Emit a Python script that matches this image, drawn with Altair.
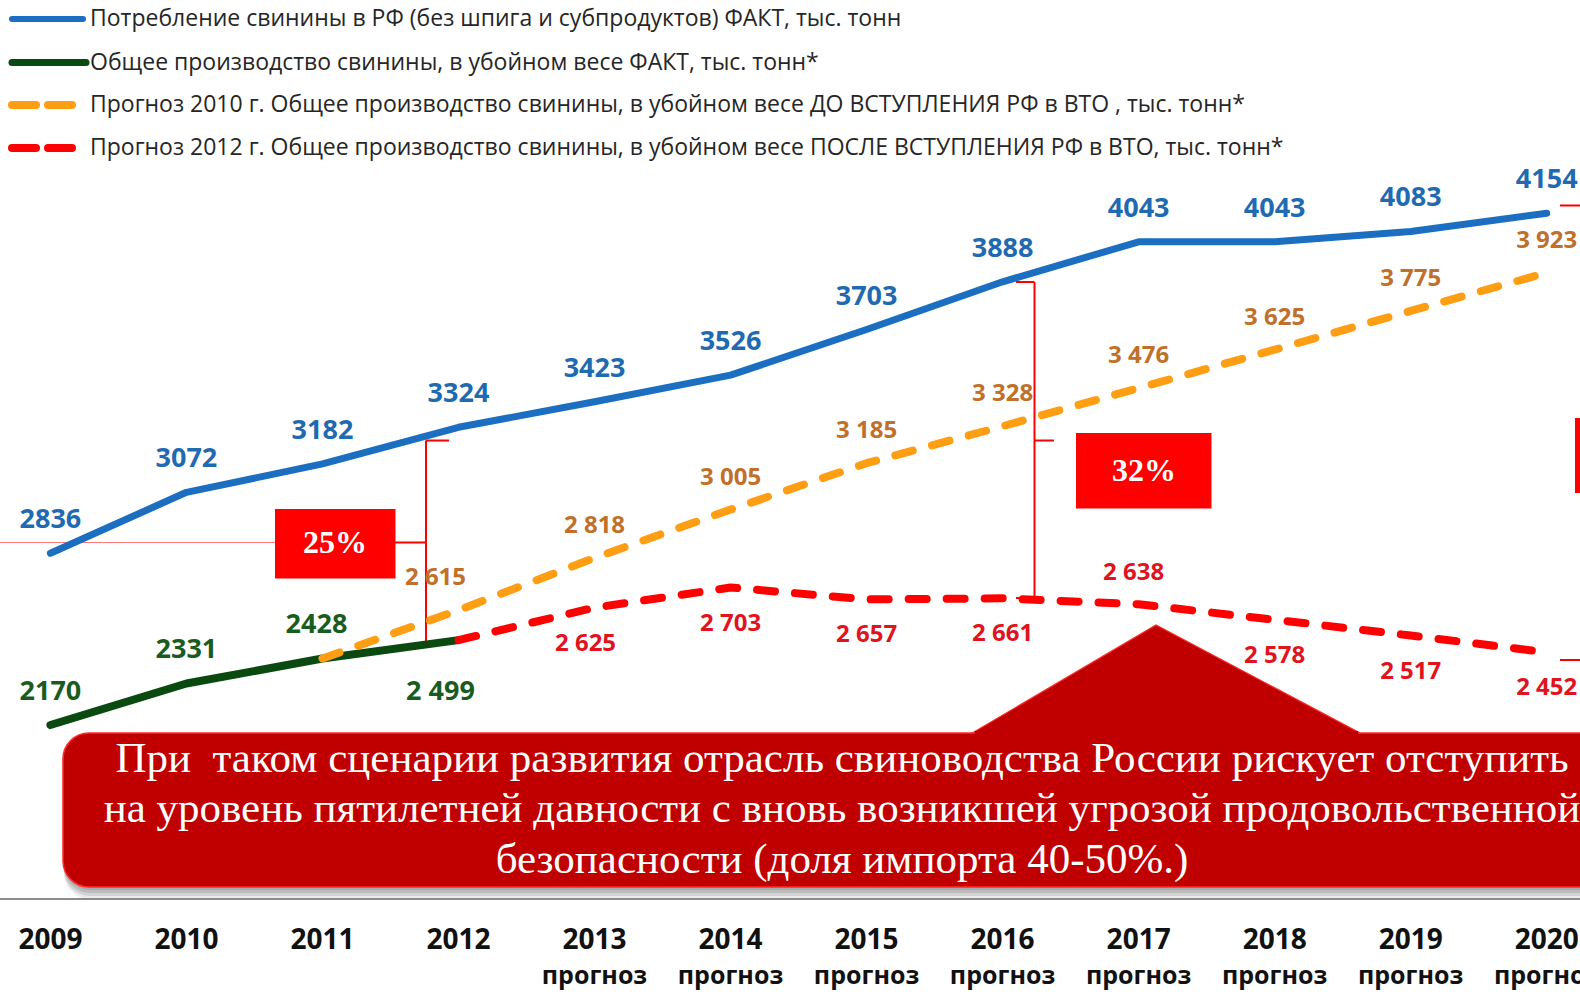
import altair as alt
import pandas as pd

# ---------------- data ----------------
years = [2009, 2010, 2011, 2012, 2013, 2014, 2015, 2016, 2017, 2018, 2019, 2020]
consumption = [2836, 3072, 3182, 3324, 3423, 3526, 3703, 3888, 4043, 4043, 4083, 4154]

prod_years = [2009, 2010, 2011, 2012]
production = [2170, 2331, 2428, 2499]

f2010_years = [2011, 2012, 2013, 2014, 2015, 2016, 2017, 2018, 2019, 2020]
forecast_2010 = [2428, 2615, 2818, 3005, 3185, 3328, 3476, 3625, 3775, 3923]

f2012_years = [2012, 2013, 2014, 2015, 2016, 2017, 2018, 2019, 2020]
forecast_2012 = [2499, 2625, 2703, 2657, 2661, 2638, 2578, 2517, 2452]

year_labels = ["2009", "2010", "2011", "2012", "2013", "2014",
               "2015", "2016", "2017", "2018", "2019", "2020"]
forecast_word = "прогноз"
first_forecast_year = 2013

legend_labels = [
    "Потребление свинины в РФ (без шпига и субпродуктов) ФАКТ, тыс. тонн",
    "Общее производство свинины, в убойном весе ФАКТ, тыс. тонн*",
    "Прогноз 2010 г. Общее производство свинины, в убойном весе ДО ВСТУПЛЕНИЯ РФ в ВТО , тыс. тонн*",
    "Прогноз 2012 г. Общее производство свинины, в убойном весе ПОСЛЕ ВСТУПЛЕНИЯ РФ в ВТО, тыс. тонн*",
]
callout_lines = [
    "При  таком сценарии развития отрасль свиноводства России рискует отступить",
    "на уровень пятилетней давности с вновь возникшей угрозой продовольственной",
    "безопасности (доля импорта 40-50%.)",
]
pct_labels = ["25%", "32%"]

# ---------------- styling ----------------
W, H = 1580, 994
FONT = "Open Sans"
SERIF = "Liberation Serif"
C_BLUE, C_BLUE_T = "#1C6FC0", "#1F6AB0"
C_GREEN, C_GREEN_T = "#0A4A10", "#1A5C1E"
C_ORANGE, C_ORANGE_T = "#FF9E12", "#C0702A"
C_RED, C_RED_T = "#FF0000", "#E0141E"
C_BOX = "#C00000"

xs = alt.Scale(domain=[2008.6295, 2020.2446], nice=False, zero=False)
ys = alt.Scale(domain=[1127.5, 4980.2], nice=False, zero=False)
PX_PER_YEAR = W / (2020.2446 - 2008.6295)


def series_df(xv, yv):
    return pd.DataFrame({"year": xv, "v": yv})


def line_layer(df, color, width, dash=None):
    kw = dict(color=color, strokeWidth=width, interpolate="linear",
              strokeCap="round", strokeJoin="round")
    if dash:
        kw["strokeDash"] = dash
    return alt.Chart(df).mark_line(**kw).encode(
        x=alt.X("year:Q", scale=xs, axis=None),
        y=alt.Y("v:Q", scale=ys, axis=None),
    )


def fmt_space(v):
    s = str(v)
    return s[:-3] + " " + s[-3:]


def label_layer(df, color, size, dy, shifts=None):
    d = df.copy()
    shifts = shifts or {}
    d["lx"] = [y + shifts.get(y, 0) / PX_PER_YEAR for y in d["year"]]
    return alt.Chart(d).mark_text(
        font=FONT, fontWeight="bold", fontSize=size, color=color,
        align="center", baseline="middle", dy=dy,
    ).encode(
        x=alt.X("lx:Q", scale=xs, axis=None),
        y=alt.Y("v:Q", scale=ys, axis=None),
        text="label:N",
    )


blue = series_df(years, consumption)
green = series_df(prod_years, production)
orange = series_df(f2010_years, forecast_2010)
red = series_df(f2012_years, forecast_2012)

blue["label"] = [str(v) for v in blue["v"]]
green["label"] = [fmt_space(v) if y >= 2012 else str(v) for y, v in zip(green["year"], green["v"])]
orange["label"] = [fmt_space(v) for v in orange["v"]]
red["label"] = [fmt_space(v) for v in red["v"]]

green_above = green[green["year"] < 2012]
green_below = green[green["year"] >= 2012]
orange_lab = orange[orange["year"] >= 2012]
red_lab = red[red["year"] >= 2013]
red_above = red_lab[red_lab["year"] == 2017]
red_below = red_lab[red_lab["year"] != 2017]

layers = []

# ---------- callout box (shadow, body, pointer) ----------
for i, op in enumerate([0.10, 0.10, 0.10, 0.08]):
    off = 3 * (i + 1)
    layers.append(
        alt.Chart(pd.DataFrame({"a": [0]})).mark_rect(
            color="#000000", opacity=op, cornerRadius=26
        ).encode(x=alt.value(64), x2=alt.value(1660),
                 y=alt.value(735 + off), y2=alt.value(887 + off))
    )
layers.append(
    alt.Chart(pd.DataFrame({"a": [0]})).mark_rect(
        color=C_BOX, stroke="#FF2A2A", strokeWidth=1.5, cornerRadius=26
    ).encode(x=alt.value(63), x2=alt.value(1660), y=alt.value(733), y2=alt.value(887))
)
tri_half_w = 194.0
tri_path = "M -1 0.2784 L -0.0526 -0.2784 L 1 0.2784 Z"
layers.append(
    alt.Chart(pd.DataFrame({"a": [0]})).mark_point(
        shape=tri_path, filled=True, fill=C_BOX, stroke="#FF2A2A",
        strokeWidth=1.2, opacity=1, size=(2 * tri_half_w) ** 2
    ).encode(x=alt.value(1166.2), y=alt.value(679))
)
layers.append(
    alt.Chart(pd.DataFrame({"a": [0]})).mark_rect(color=C_BOX).encode(
        x=alt.value(975), x2=alt.value(1358), y=alt.value(731), y2=alt.value(738))
)
callout_df = pd.DataFrame({
    "t": [s.replace("  ", " \u00a0") for s in callout_lines],
    "py": [759, 809, 860],
})
layers.append(
    alt.Chart(callout_df).mark_text(
        font=SERIF, fontSize=43, color="white", align="center", baseline="middle"
    ).encode(x=alt.value(842), y=alt.Y("py:Q", scale=None, axis=None), text="t:N")
)

# ---------- percentage brackets ----------
segs = pd.DataFrame([
    (0, 542.5, 275, 542.5, "#FF7A7A", 1.2),
    (395, 542.5, 426, 542.5, C_RED, 2),
    (426, 440.5, 426, 643.5, C_RED, 2),
    (426, 440.5, 449, 440.5, C_RED, 2),
    (426, 643.5, 449, 643.5, C_RED, 2),
    (1016, 282, 1034.5, 282, C_RED, 2),
    (1034.5, 282, 1034.5, 598, C_RED, 2),
    (1034.5, 440.5, 1054, 440.5, C_RED, 2),
    (1016, 598, 1034.5, 598, C_RED, 2),
    (1560, 205.5, 1582, 205.5, C_RED, 2),
    (1560, 660, 1582, 660, C_RED, 2),
], columns=["x1", "y1", "x2", "y2", "c", "w"])
layers.append(
    alt.Chart(segs).mark_rule().encode(
        x=alt.X("x1:Q", scale=None, axis=None), x2="x2:Q",
        y=alt.Y("y1:Q", scale=None, axis=None), y2="y2:Q",
        color=alt.Color("c:N", scale=None),
        strokeWidth=alt.StrokeWidth("w:Q", scale=None),
    )
)
boxes = pd.DataFrame([
    (275, 509, 395.5, 578.5),
    (1076, 433, 1211.5, 508.5),
    (1575, 418, 1590, 493),
], columns=["x1", "y1", "x2", "y2"])
layers.append(
    alt.Chart(boxes).mark_rect(color=C_RED).encode(
        x=alt.X("x1:Q", scale=None, axis=None), x2="x2:Q",
        y=alt.Y("y1:Q", scale=None, axis=None), y2="y2:Q",
    )
)
pct_df = pd.DataFrame({"t": pct_labels, "px": [335, 1144], "py": [543, 471]})
layers.append(
    alt.Chart(pct_df).mark_text(
        font=SERIF, fontWeight="bold", fontSize=32, color="white",
        align="center", baseline="middle"
    ).encode(x=alt.X("px:Q", scale=None, axis=None),
             y=alt.Y("py:Q", scale=None, axis=None), text="t:N")
)

# ---------- series ----------
layers.append(line_layer(blue, C_BLUE, 7))
layers.append(line_layer(green, C_GREEN, 8))
layers.append(line_layer(orange, C_ORANGE, 8, [18, 20]))
layers.append(line_layer(red, C_RED, 8, [18, 20]))

layers.append(label_layer(blue, C_BLUE_T, 27, -33))
layers.append(label_layer(green_above, C_GREEN_T, 27, -33, {2011: -6}))
layers.append(label_layer(green_below, C_GREEN_T, 27, 52, {2012: -18}))
layers.append(label_layer(orange_lab, C_ORANGE_T, 24, -32, {2012: -23}))
layers.append(label_layer(red_below, C_RED_T, 24, 36, {2013: -9}))
layers.append(label_layer(red_above, C_RED_T, 24, -31, {2017: -5}))

# ---------- x axis (line + labels) ----------
layers.append(
    alt.Chart(pd.DataFrame({"a": [0]})).mark_rule(color="#8C8C8C", strokeWidth=2).encode(
        x=alt.value(0), x2=alt.value(W), y=alt.value(899))
)
xl = pd.DataFrame({"year": years, "t": year_labels})
layers.append(
    alt.Chart(xl).mark_text(font=FONT, fontWeight="bold", fontSize=28, color="#111111",
                            align="center", baseline="middle").encode(
        x=alt.X("year:Q", scale=xs, axis=None), y=alt.value(941), text="t:N")
)
xf = pd.DataFrame({"year": [y for y in years if y >= first_forecast_year]})
xf["t"] = forecast_word
layers.append(
    alt.Chart(xf).mark_text(font=FONT, fontWeight="bold", fontSize=25, color="#111111",
                            align="center", baseline="middle").encode(
        x=alt.X("year:Q", scale=xs, axis=None), y=alt.value(976), text="t:N")
)

# ---------- legend ----------
leg_y = [19, 62.5, 105, 148]
leg_segs = pd.DataFrame([
    (12, leg_y[0], 83, C_BLUE, 6),
    (12, leg_y[1], 86, C_GREEN, 7),
    (12, leg_y[2], 36, C_ORANGE, 8),
    (48, leg_y[2], 72, C_ORANGE, 8),
    (12, leg_y[3], 36, C_RED, 8),
    (48, leg_y[3], 72, C_RED, 8),
], columns=["x1", "y", "x2", "c", "w"])
layers.append(
    alt.Chart(leg_segs).mark_rule(strokeCap="round").encode(
        x=alt.X("x1:Q", scale=None, axis=None), x2="x2:Q",
        y=alt.Y("y:Q", scale=None, axis=None),
        color=alt.Color("c:N", scale=None),
        strokeWidth=alt.StrokeWidth("w:Q", scale=None),
    )
)
leg_df = pd.DataFrame({"t": legend_labels, "py": leg_y})
layers.append(
    alt.Chart(leg_df).mark_text(font=FONT, fontSize=23, color="#262626",
                                align="left", baseline="middle").encode(
        x=alt.value(90), y=alt.Y("py:Q", scale=None, axis=None), text="t:N")
)

chart = alt.layer(*layers).resolve_scale(
    x="independent", y="independent"
).properties(
    width=W, height=H, padding=0, background="white",
    autosize=alt.AutoSizeParams(type="none"),
).configure_view(stroke=None)

chart.save("out.html", embed_options={"renderer": "svg", "actions": False})
